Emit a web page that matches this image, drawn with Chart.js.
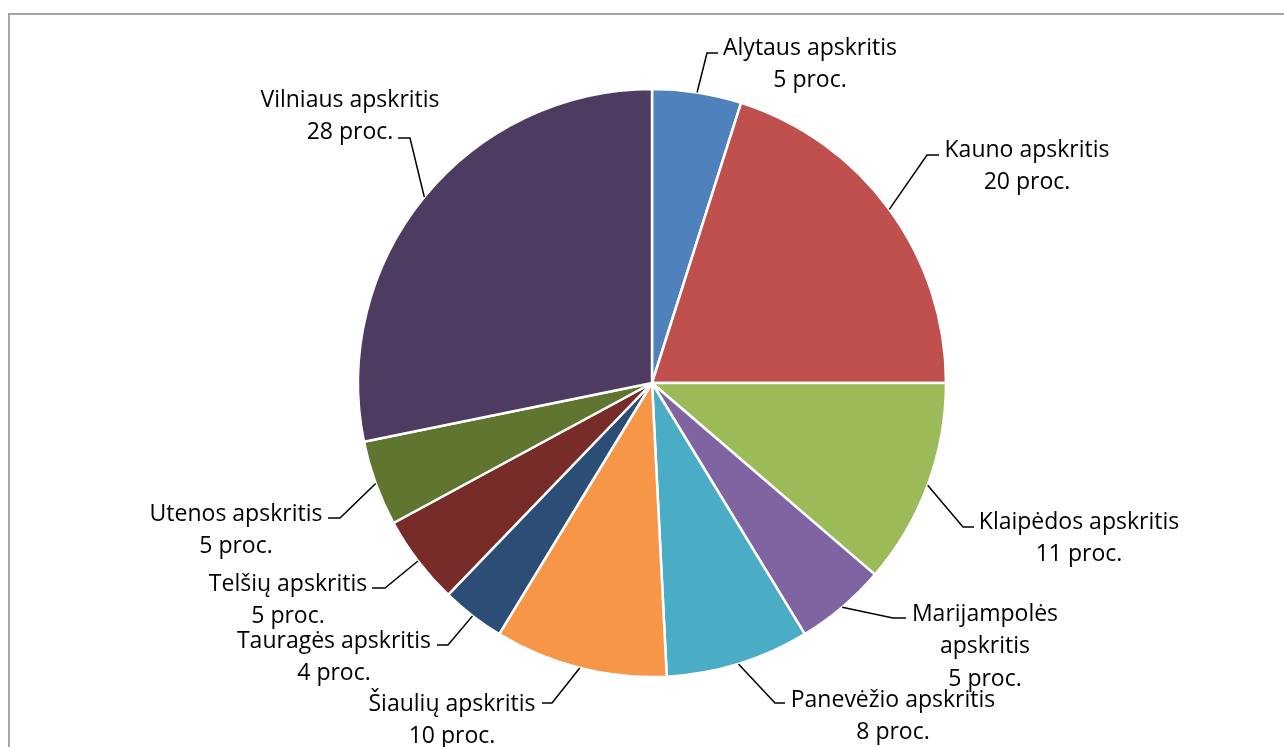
<!DOCTYPE html>
<html>
<head>
<meta charset="utf-8">
<script src="https://cdn.jsdelivr.net/npm/chart.js@4"></script>
<style>
  html, body { margin: 0; padding: 0; background: #ffffff; }
  #wrap { width: 1284px; height: 747px; position: relative; }
</style>
</head>
<body>
<div id="wrap"><canvas id="c" width="1284" height="747"></canvas></div>
<script>
// ---- data ----
const categories = [
  "Alytaus apskritis", "Kauno apskritis", "Klaipėdos apskritis", "Marijampolės apskritis",
  "Panevėžio apskritis", "Šiaulių apskritis", "Tauragės apskritis", "Telšių apskritis",
  "Utenos apskritis", "Vilniaus apskritis"
];
const shares = [4.9, 20.1, 11.3, 5.0, 7.9, 9.5, 3.5, 4.9, 4.7, 28.2];
const valueSuffix = " proc.";

// ---- styles ----
const sliceColors = ["#4F81BD", "#C0504D", "#9BBB59", "#8064A2", "#4BACC6",
                     "#F79646", "#2C4D75", "#772C2A", "#5F7530", "#4D3B62"];

// label layout relative to pie centre: elbow point, end of horizontal tick,
// text block centre x, first line centre y, and whether to split the name
const labelLayout = [
  { ex: 55,   ey: -330, hx: 66,   tx: 158,  ty: -337, split: false },
  { ex: 275,  ey: -228, hx: 287,  tx: 375,  ty: -235, split: false },
  { ex: 311,  ey: 144,  hx: 322,  tx: 427,  ty: 137,  split: false },
  { ex: 241,  ey: 235,  hx: 254,  tx: 333,  ty: 229,  split: true  },
  { ex: 123,  ey: 320,  hx: 133,  tx: 241,  ty: 315,  split: false },
  { ex: -100, ey: 320,  hx: -110, tx: -200, ty: 319,  split: false },
  { ex: -204, ey: 262,  hx: -215, tx: -318, ty: 256,  split: false },
  { ex: -267, ey: 205,  hx: -280, tx: -364, ty: 199,  split: false },
  { ex: -312, ey: 135,  hx: -324, tx: -416, ty: 129,  split: false },
  { ex: -242, ey: -245, hx: -254, tx: -302, ty: -285, split: false }
];
const LINE_H = 32.5;
const TEXT_SHIFT = 2;
const FONT = "23px 'Open Sans'";

const framePlugin = {
  id: 'frame',
  beforeDraw(chart) {
    const ctx = chart.ctx;
    ctx.save();
    ctx.fillStyle = '#ffffff';
    ctx.fillRect(0, 0, chart.width, chart.height);
    ctx.strokeStyle = '#A6A6A6';
    ctx.lineWidth = 2;
    ctx.strokeRect(9, 14, chart.width + 20, chart.height + 20);
    ctx.restore();
  }
};

const labelPlugin = {
  id: 'pieLabels',
  afterDatasetsDraw(chart) {
    const ctx = chart.ctx;
    const meta = chart.getDatasetMeta(0);
    ctx.save();
    meta.data.forEach((arc, i) => {
      const p = arc.getProps(['x', 'y', 'startAngle', 'endAngle', 'outerRadius'], true);
      const mid = (p.startAngle + p.endAngle) / 2;
      const sx = p.x + Math.cos(mid) * p.outerRadius;
      const sy = p.y + Math.sin(mid) * p.outerRadius;
      const L = labelLayout[i];
      ctx.strokeStyle = '#000000';
      ctx.lineWidth = 1.5;
      ctx.beginPath();
      ctx.moveTo(sx, sy);
      ctx.lineTo(p.x + L.ex, p.y + L.ey);
      ctx.lineTo(p.x + L.hx, p.y + L.ey);
      ctx.stroke();

      const name = categories[i];
      let lines;
      if (L.split) {
        lines = name.split(' ');
      } else {
        lines = [name];
      }
      lines.push(Math.round(shares[i]) + valueSuffix);
      ctx.fillStyle = '#000000';
      ctx.font = FONT;
      ctx.textAlign = 'center';
      ctx.textBaseline = 'middle';
      lines.forEach((t, k) => {
        ctx.fillText(t, p.x + L.tx, p.y + L.ty + TEXT_SHIFT + k * LINE_H);
      });
    });
    ctx.restore();
  }
};

new Chart(document.getElementById('c'), {
  type: 'pie',
  data: {
    labels: categories,
    datasets: [{
      data: shares,
      backgroundColor: sliceColors,
      borderColor: '#ffffff',
      borderWidth: 2.5
    }]
  },
  options: {
    responsive: false,
    animation: false,
    radius: 294,
    layout: { padding: { left: 40, right: 20, top: 40, bottom: 21 } },
    plugins: {
      legend: { display: false },
      tooltip: { enabled: false }
    }
  },
  plugins: [framePlugin, labelPlugin]
});
</script>
</body>
</html>
